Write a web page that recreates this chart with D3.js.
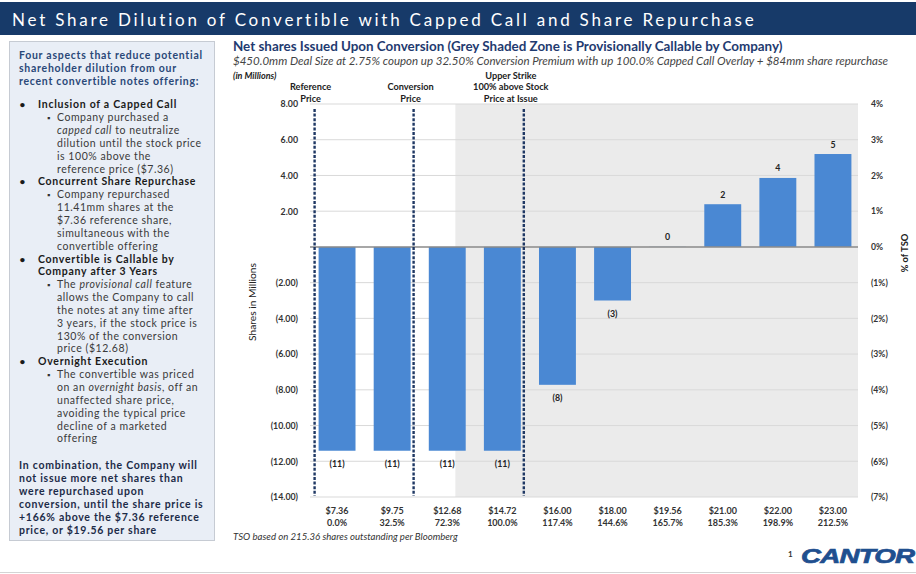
<!DOCTYPE html>
<html>
<head>
<meta charset="utf-8">
<script src="https://cdn.jsdelivr.net/npm/d3@7"></script>
<style>
  html, body { margin: 0; padding: 0; background: #fff; }
  svg { display: block; font-family: Lato, "Open Sans", sans-serif; }
</style>
</head>
<body>
<svg id="chart" width="916" height="574"></svg>
<script>
// Stock price scenarios at conversion and their premium over the $7.36 reference price
const prices = ["$7.36", "$9.75", "$12.68", "$14.72", "$16.00", "$18.00", "$19.56", "$21.00", "$22.00", "$23.00"];
const premiums = ["0.0%", "32.5%", "72.3%", "100.0%", "117.4%", "144.6%", "165.7%", "185.3%", "198.9%", "212.5%"];
// Net shares issued upon conversion (millions), after capped call and the 11.41mm repurchase
const netShares = [-11.41, -11.41, -11.41, -11.41, -7.72, -3.00, 0.01, 2.39, 3.86, 5.20];
// Axis ticks: shares in millions (left) and % of TSO (right)
const shareTicks = [8, 6, 4, 2, 0, -2, -4, -6, -8, -10, -12, -14];
const tsoTicks = [4, 3, 2, 1, 0, -1, -2, -3, -4, -5, -6, -7];
// Reference price markers: the price each sits beside, which side, and its caption
const markerPrices = ["$7.36", "$9.75", "$14.72"];
const markerSides = ["before", "after", "after"];
const markerLabels = [["Reference", "Price"], ["Conversion", "Price"], ["Upper Strike", "100% above Stock", "Price at Issue"]];
// Provisional call zone begins at 130% of the conversion price
const callablePrice = "$12.68";

// Side panel copy
const panelIntro = ["Four aspects that reduce potential", "shareholder dilution from our", "recent convertible notes offering:"];
const panelPoints = [
  { head: ["Inclusion of a Capped Call"],
    body: ["Company purchased a", "*capped call* to neutralize", "dilution until the stock price", "is 100% above the", "reference price ($7.36)"] },
  { head: ["Concurrent Share Repurchase"],
    body: ["Company repurchased", "11.41mm shares at the", "$7.36 reference share,", "simultaneous with the", "convertible offering"] },
  { head: ["Convertible is Callable by", "Company after 3 Years"],
    body: ["The *provisional call* feature", "allows the Company to call", "the notes at any time after", "3 years, if the stock price is", "130% of the conversion", "price ($12.68)"] },
  { head: ["Overnight Execution"],
    body: ["The convertible was priced", "on an *overnight basis*, off an", "unaffected share price,", "avoiding the typical price", "decline of a marketed", "offering"] }
];
const panelSummary = ["In combination, the Company will", "not issue more net shares than", "were repurchased upon", "conversion, until the share price is", "+166% above the $7.36 reference", "price, or $19.56 per share"];

const svg = d3.select("#chart");
const W = 916, H = 574;

// Scale a text's font size so it spans the given width
function fitWidth(sel, target) {
  const len = sel.node().getComputedTextLength();
  const fs = parseFloat(sel.attr("font-size"));
  sel.attr("font-size", (fs * target / len).toFixed(2));
  return sel;
}
// Letter spacing that stretches a text to the given width
function spacingFor(sel, target) {
  const len = sel.node().getComputedTextLength();
  return Math.max(0, (target - len) / sel.text().length);
}
// Render *italic* fragments as tspans
function richText(sel, str) {
  str.split("*").forEach((part, i) => {
    if (!part) return;
    sel.append("tspan").attr("font-style", i % 2 ? "italic" : null).text(part);
  });
}

svg.append("rect").attr("width", W).attr("height", H).attr("fill", "#fff");

// ---- Title banner ----
svg.append("rect").attr("x", 0).attr("y", 2).attr("width", W).attr("height", 33).attr("fill", "#173a69");
const title = svg.append("text")
  .attr("x", 12).attr("y", 25.5)
  .attr("font-size", 17).attr("fill", "#fff")
  .text("Net Share Dilution of Convertible with Capped Call and Share Repurchase");
title.attr("letter-spacing", spacingFor(title, 745).toFixed(2));

// ---- Side panel ----
svg.append("rect").attr("x", 9.5).attr("y", 41.5).attr("width", 205).attr("height", 499)
  .attr("fill", "#e9eef6").attr("stroke", "#c6cbd3");

const panelFont = 10.5;
const panel = svg.append("g");
const intro = panel.selectAll("text.intro").data(panelIntro).join("text")
  .attr("class", "intro")
  .attr("x", 19).attr("y", (d, i) => 58.5 + i * 13)
  .attr("font-size", panelFont).attr("font-weight", 700).attr("fill", "#2a4878")
  .text(d => d);
const boldSpacing = spacingFor(d3.select(intro.nodes()[0]), 184);
intro.attr("letter-spacing", boldSpacing.toFixed(2));

// Tracking for the regular-weight sub-points, set from one full-width line
const probe = panel.append("text").attr("font-size", panelFont).text(panelPoints[0].body[2]);
const regSpacing = spacingFor(probe, 145);
probe.remove();

let row = 0;
const rowY = r => 108.3 + r * 12.85;
panelPoints.forEach(pt => {
  pt.head.forEach((line, j) => {
    if (j === 0) {
      panel.append("text").attr("x", 19.5).attr("y", rowY(row)).attr("font-size", panelFont - 0.5)
        .attr("font-weight", 700).attr("fill", "#1a1a1a").text("•");
    }
    panel.append("text").attr("x", 38).attr("y", rowY(row)).attr("font-size", panelFont)
      .attr("font-weight", 700).attr("fill", "#1a1a1a")
      .attr("letter-spacing", boldSpacing.toFixed(2)).text(line);
    row++;
  });
  pt.body.forEach((line, j) => {
    if (j === 0) {
      panel.append("text").attr("x", 47).attr("y", rowY(row)).attr("font-size", panelFont - 2)
        .attr("fill", "#333").text("▪");
    }
    const t = panel.append("text").attr("x", 57).attr("y", rowY(row)).attr("font-size", panelFont)
      .attr("fill", "#3a3a3a").attr("letter-spacing", regSpacing.toFixed(2));
    richText(t, line);
    row++;
  });
});
panel.selectAll("text.summary").data(panelSummary).join("text")
  .attr("class", "summary")
  .attr("x", 19).attr("y", (d, i) => 469.3 + i * 13)
  .attr("font-size", panelFont).attr("font-weight", 700).attr("fill", "#1c2b48")
  .attr("letter-spacing", boldSpacing.toFixed(2))
  .text(d => d);

// ---- Chart headings ----
fitWidth(svg.append("text").attr("x", 233).attr("y", 51)
  .attr("font-size", 10.5).attr("font-weight", 700).attr("fill", "#1f3b70")
  .text("Net shares Issued Upon Conversion (Grey Shaded Zone is Provisionally Callable by Company)"), 550);
fitWidth(svg.append("text").attr("x", 233).attr("y", 65)
  .attr("font-size", 8).attr("font-style", "italic").attr("fill", "#444")
  .text("$450.0mm Deal Size at 2.75% coupon up 32.50% Conversion Premium with up 100.0% Capped Call Overlay + $84mm share repurchase"), 656);
svg.append("text").attr("x", 233).attr("y", 78.5)
  .attr("font-size", 9).attr("font-weight", 700).attr("font-style", "italic").attr("fill", "#222")
  .text("(in Millions)");

// ---- Scales ----
const x = d3.scaleBand().domain(prices).range([309.5, 860.5]).paddingInner(0.33).paddingOuter(0.165);
const y = d3.scaleLinear().domain([-14, 8]).range([497, 104]);
const yR = d3.scaleLinear().domain([-7, 4]).range([497, 104]);
const [x0, x1] = [310, 858];
const bw = x.bandwidth();

const plot = svg.append("g");

// Provisionally callable zone
const shadeStart = x(callablePrice) + bw * 0.72;
plot.append("rect")
  .attr("x", shadeStart).attr("y", y(8))
  .attr("width", x1 - shadeStart).attr("height", y(-14) - y(8))
  .attr("fill", "#ebebeb");

// Gridlines
plot.selectAll("line.grid").data(shareTicks.filter(d => d !== 0)).join("line")
  .attr("class", "grid")
  .attr("x1", x0).attr("x2", x1)
  .attr("y1", d => y(d)).attr("y2", d => y(d))
  .attr("stroke", "#d9d9d9").attr("stroke-width", 1);

// Bars
plot.selectAll("rect.bar").data(netShares).join("rect")
  .attr("class", "bar")
  .attr("x", (d, i) => x(prices[i]))
  .attr("width", bw)
  .attr("y", d => y(Math.max(0, d)))
  .attr("height", d => Math.abs(y(d) - y(0)))
  .attr("fill", "#4a88d3");

// Zero line
plot.append("line").attr("x1", x0).attr("x2", x1).attr("y1", y(0)).attr("y2", y(0))
  .attr("stroke", "#8a8a8a").attr("stroke-width", 1.5);

// Bar value labels
const fmtInt = d3.format(".0f");
const valueLabel = v => v < 0 ? `(${fmtInt(-v)})` : fmtInt(v);
plot.selectAll("text.val").data(netShares).join("text")
  .attr("class", "val")
  .attr("x", (d, i) => x(prices[i]) + bw / 2)
  .attr("y", d => d < -0.5 ? y(d) + 16 : y(Math.max(0, d)) - 6.5)
  .attr("text-anchor", "middle")
  .attr("font-size", 8.8).attr("font-weight", 700).attr("fill", "#222")
  .text(valueLabel);

// Reference price markers
const markerX = markerPrices.map((p, i) => markerSides[i] === "before" ? x(p) - 4 : x(p) + bw + 3);
const labelShift = [-4, -3, -13];
plot.selectAll("line.marker").data(markerX).join("line")
  .attr("class", "marker")
  .attr("x1", d => d).attr("x2", d => d)
  .attr("y1", y(8) + 5).attr("y2", y(-14) - 1)
  .attr("stroke", "#1f3864").attr("stroke-width", 2.4)
  .attr("stroke-dasharray", "3,1.6");
markerLabels.forEach((lines, i) => {
  const n = lines.length;
  lines.forEach((line, j) => {
    svg.append("text")
      .attr("x", markerX[i] + labelShift[i])
      .attr("y", 102 - (n - 1 - j) * 11.7)
      .attr("text-anchor", "middle")
      .attr("font-size", 9.2).attr("font-weight", 700).attr("fill", "#222")
      .text(line);
  });
});

// Left axis (shares in millions)
const fmt2 = d3.format(".2f");
const fmtShares = v => v > 0 ? fmt2(v) : v < 0 ? `(${fmt2(-v)})` : "";
const gL = svg.append("g").attr("transform", "translate(298,0)")
  .call(d3.axisLeft(y).tickValues(shareTicks).tickSize(0).tickPadding(0).tickFormat(fmtShares));
gL.select(".domain").remove();
gL.selectAll("text").attr("font-family", "Lato, sans-serif").attr("font-size", 8.8)
  .attr("font-weight", 700).attr("fill", "#333");

// Right axis (% of TSO)
const fmtTso = v => v > 0 ? `${v}%` : v < 0 ? `(${-v}%)` : "0%";
const gR = svg.append("g").attr("transform", "translate(871,0)")
  .call(d3.axisRight(yR).tickValues(tsoTicks).tickSize(0).tickPadding(0).tickFormat(fmtTso));
gR.select(".domain").remove();
gR.selectAll("text").attr("font-family", "Lato, sans-serif").attr("font-size", 8.6)
  .attr("font-weight", 700).attr("fill", "#333");

// Category axis: price over premium
const gB = svg.append("g").attr("transform", `translate(0,${y(-14)})`)
  .call(d3.axisBottom(x).tickSize(0).tickPadding(0));
gB.select(".domain").remove();
gB.selectAll("text").each(function (d) {
  const t = d3.select(this).text(null).attr("dy", null).attr("y", 17)
    .attr("font-family", "Lato, sans-serif").attr("font-size", 9)
    .attr("font-weight", 700).attr("fill", "#333");
  t.append("tspan").attr("x", 0).text(d);
  t.append("tspan").attr("x", 0).attr("dy", 12).text(premiums[prices.indexOf(d)]);
});

// Axis titles
svg.append("text").attr("transform", "translate(256,302) rotate(-90)")
  .attr("text-anchor", "middle").attr("font-size", 10.2).attr("fill", "#222")
  .text("Shares in Millions");
svg.append("text").attr("transform", "translate(908,253) rotate(-90)")
  .attr("text-anchor", "middle").attr("font-size", 9.4).attr("font-weight", 700).attr("fill", "#222")
  .text("% of TSO");

// Footnote
fitWidth(svg.append("text").attr("x", 233).attr("y", 539.5)
  .attr("font-size", 6.8).attr("font-style", "italic").attr("fill", "#333")
  .text("TSO based on 215.36 shares outstanding per Bloomberg"), 225);

// Footer: page number and wordmark
svg.append("line").attr("x1", 0).attr("x2", W).attr("y1", 572.5).attr("y2", 572.5)
  .attr("stroke", "#d4d4d4").attr("stroke-width", 1);
svg.append("text").attr("x", 788).attr("y", 557).attr("font-size", 8).attr("font-weight", 700)
  .attr("fill", "#333").text("1");
svg.append("text").attr("transform", "translate(801,562.5) scale(1.32,1)")
  .attr("font-family", "'Liberation Sans', Arial, sans-serif")
  .attr("font-size", 21).attr("font-weight", 700).attr("font-style", "italic")
  .attr("fill", "#1f4f8f").attr("stroke", "#1f4f8f").attr("stroke-width", 0.7)
  .attr("letter-spacing", -0.6)
  .text("CANTOR");
</script>
</body>
</html>
